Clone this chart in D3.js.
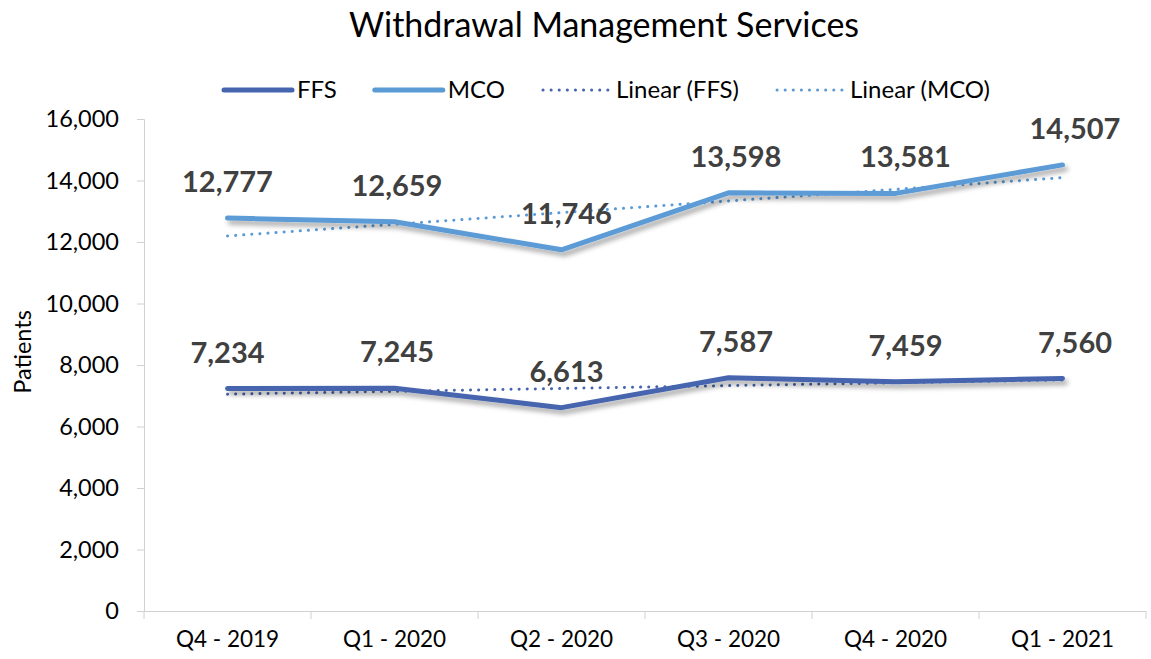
<!DOCTYPE html>
<html>
<head>
<meta charset="utf-8">
<script src="https://cdn.jsdelivr.net/npm/d3@7"></script>
<style>
  body { margin: 0; background: #fff; }
  svg { font-family: Lato, "Open Sans", sans-serif; }
</style>
</head>
<body>
<svg id="chart" width="1151" height="659"></svg>
<script>
// Chart data
const quarters = ["Q4 - 2019", "Q1 - 2020", "Q2 - 2020", "Q3 - 2020", "Q4 - 2020", "Q1 - 2021"];
const ffsValues = [7234, 7245, 6613, 7587, 7459, 7560];
const mcoValues = [12777, 12659, 11746, 13598, 13581, 14507];
const yTicks = [0, 2000, 4000, 6000, 8000, 10000, 12000, 14000, 16000];

const width = 1151, height = 659;
const margin = { top: 119, right: 5, bottom: 48, left: 144 };
const ffsColor = "#4665ae",
  mcoColor = "#5b9bd5",
  axisColor = "#d0d0d0",
  labelColor = "#404040";

const svg = d3.select("#chart");

// drop shadow for the main lines
const defs = svg.append("defs");
const shadow = defs.append("filter").attr("id", "shadow")
  .attr("x", "-10%").attr("y", "-50%").attr("width", "120%").attr("height", "200%");
shadow.append("feDropShadow")
  .attr("dx", 3).attr("dy", 4).attr("stdDeviation", 2.5)
  .attr("flood-color", "#000").attr("flood-opacity", 0.35);

const xScale = d3.scaleBand().domain(quarters)
  .range([margin.left, width - margin.right]);
const yScale = d3.scaleLinear().domain([0, 16000])
  .range([height - margin.bottom, margin.top]);

const xc = d => xScale(d) + xScale.bandwidth() / 2;

// Title
svg.append("text")
  .attr("x", 604).attr("y", 37)
  .attr("text-anchor", "middle")
  .attr("font-size", 34)
  .attr("fill", "#000")
  .text("Withdrawal Management Services");

// Y axis
const yAxis = svg.append("g")
  .attr("transform", "translate(" + margin.left + ",0)")
  .call(d3.axisLeft(yScale).tickValues(yTicks).tickSize(7).tickPadding(18).tickFormat(d3.format(",")));
yAxis.select(".domain").attr("stroke", axisColor);
yAxis.selectAll(".tick line").attr("stroke", axisColor);
yAxis.selectAll("text").attr("font-size", 23.5).attr("fill", "#000").attr("font-family", "Lato");

// X axis
const xAxis = svg.append("g")
  .attr("transform", "translate(0," + (height - margin.bottom) + ")")
  .call(d3.axisBottom(xScale).tickSize(0).tickPadding(20));
xAxis.select(".domain").attr("stroke", axisColor);
xAxis.selectAll("text").attr("font-size", 22.5).attr("fill", "#000").attr("font-family", "Lato");
// category separators
xAxis.selectAll(".sep")
  .data(quarters.concat(["end"]))
  .enter().append("line")
  .attr("class", "sep")
  .attr("x1", (d, i) => margin.left + i * xScale.bandwidth())
  .attr("x2", (d, i) => margin.left + i * xScale.bandwidth())
  .attr("y1", 0).attr("y2", 8)
  .attr("stroke", axisColor);

// Y axis title
svg.append("text")
  .attr("transform", "translate(31,352) rotate(-90)")
  .attr("text-anchor", "middle")
  .attr("font-size", 23.5)
  .text("Patients");

// Linear trend (least squares, same as Excel trendline)
function trend(values) {
  const n = values.length;
  const mx = (n - 1) / 2, my = d3.mean(values);
  let sxy = 0, sxx = 0;
  values.forEach((v, i) => { sxy += (i - mx) * (v - my); sxx += (i - mx) * (i - mx); });
  const slope = sxy / sxx;
  return values.map((v, i) => my + slope * (i - mx));
}

const line = d3.line()
  .x((d, i) => xc(quarters[i]))
  .y(d => yScale(d));

const series = [
  { name: "FFS", values: ffsValues, color: ffsColor },
  { name: "MCO", values: mcoValues, color: mcoColor }
];

// trend lines (dotted)
series.forEach(s => {
  svg.append("path")
    .datum(trend(s.values))
    .attr("d", line)
    .attr("fill", "none")
    .attr("stroke", s.color)
    .attr("stroke-width", 3)
    .attr("stroke-linecap", "round")
    .attr("stroke-dasharray", "0.1 8");
});

// main lines
series.forEach(s => {
  svg.append("path")
    .datum(s.values)
    .attr("d", line)
    .attr("fill", "none")
    .attr("stroke", s.color)
    .attr("stroke-width", 5)
    .attr("stroke-linejoin", "round")
    .attr("stroke-linecap", "round")
    .attr("filter", "url(#shadow)");
});

// data labels
series.forEach(s => {
  svg.selectAll(".lbl-" + s.name)
    .data(s.values)
    .enter().append("text")
    .attr("x", (d, i) => xc(quarters[i]) + i * 2.5)
    .attr("y", d => yScale(d) - 26)
    .attr("text-anchor", "middle")
    .attr("font-size", 29)
    .attr("font-weight", "bold")
    .attr("fill", labelColor)
    .text(d => d3.format(",")(d));
});

// Legend
const legendItems = [
  { label: "FFS", color: ffsColor, dotted: false },
  { label: "MCO", color: mcoColor, dotted: false },
  { label: "Linear (FFS)", color: ffsColor, dotted: true },
  { label: "Linear (MCO)", color: mcoColor, dotted: true }
];
const legend = svg.append("g").attr("transform", "translate(222,90)");
let lx = 0;
legendItems.forEach(item => {
  const g = legend.append("g").attr("transform", "translate(" + lx + ",0)");
  g.append("line")
    .attr("x1", 2).attr("x2", 70).attr("y1", 0).attr("y2", 0)
    .attr("stroke", item.color)
    .attr("stroke-width", item.dotted ? 3 : 5)
    .attr("stroke-linecap", "round")
    .attr("stroke-dasharray", item.dotted ? "0.1 8" : null);
  const t = g.append("text")
    .attr("x", 75).attr("y", 0).attr("dy", "0.35em")
    .attr("font-size", 24)
    .text(item.label);
  lx += 75 + t.node().getComputedTextLength() + 36;
});
</script>
</body>
</html>
